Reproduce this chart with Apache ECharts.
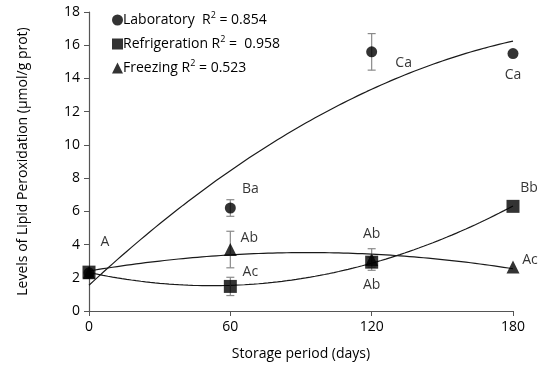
<!DOCTYPE html>
<html><head><meta charset="utf-8">
<script src="https://cdn.jsdelivr.net/npm/echarts@6/dist/echarts.min.js"></script>
<style>html,body{margin:0;padding:0;background:#fff}#c{width:552px;height:367px}</style>
</head><body><div id="c"></div>
<script>
const days = [0, 60, 120, 180];
const labMean = [2.3, 6.2, 15.6, 15.5];
const labErr = [0, 0.5, 1.1, 0];
const refMean = [2.34, 1.48, 2.94, 6.3];
const refErr = [0, 0.55, 0.3, 0];
const frzMean = [2.3, 3.7, 3.1, 2.65];
const frzErr = [0, 1.1, 0.65, 0];
const labLetters = ['', 'Ba', 'Ca', 'Ca'];
const refLetters = ['A', 'Ac', 'Ab', 'Bb'];
const frzLetters = ['', 'Ab', 'Ab', 'Ac'];
const seriesNames = ['Laboratory', 'Refrigeration', 'Freezing'];
const r2Labels = ['0.854', '0.958', '0.523'];
const xTicks = [0, 60, 120, 180];

const FONT = 'Open Sans';
// label offsets (style)
const labOff = [[0,0],[20,-19],[32,11],[0,21]];
const refOff = [[16,-30],[20,-14],[0,23],[16,-18]];
const frzOff = [[0,0],[19,-12],[0,-25],[17,-7]];

function quadFit(xs, ys) {
  // least-squares quadratic fit
  let S = [0,0,0,0,0], T = [0,0,0];
  for (let i = 0; i < xs.length; i++) {
    const x = xs[i], y = ys[i];
    for (let k = 0; k < 5; k++) S[k] += Math.pow(x, k);
    for (let k = 0; k < 3; k++) T[k] += Math.pow(x, k) * y;
  }
  const A = [[S[0],S[1],S[2],T[0]],[S[1],S[2],S[3],T[1]],[S[2],S[3],S[4],T[2]]];
  for (let i = 0; i < 3; i++) {
    for (let j = i+1; j < 3; j++) {
      const f = A[j][i] / A[i][i];
      for (let k = i; k < 4; k++) A[j][k] -= f * A[i][k];
    }
  }
  const c = [0,0,0];
  for (let i = 2; i >= 0; i--) {
    let s = A[i][3];
    for (let k = i+1; k < 3; k++) s -= A[i][k] * c[k];
    c[i] = s / A[i][i];
  }
  return c;
}
function trend(ys) {
  const c = quadFit(days, ys);
  const pts = [];
  for (let x = 0; x <= 180; x += 2) pts.push([x, c[0] + c[1]*x + c[2]*x*x]);
  return pts;
}

function pts(means, letters, offs) {
  return days.map((d, i) => ({
    value: [d, means[i]],
    label: {
      show: !!letters[i], formatter: letters[i], position: 'inside',
      offset: offs[i], color: '#000', fontSize: 14, fontFamily: FONT
    }
  }));
}
function errData(means, errs) { return days.map((d, i) => [d, means[i], errs[i]]); }

const errSeries = (means, errs, z) => ({
  type: 'custom', z: z, silent: true,
  data: errData(means, errs),
  renderItem: (params, api) => {
    const x = api.value(0), m = api.value(1), e = api.value(2);
    if (!e) return null;
    const t = api.coord([x, m + e]), b = api.coord([x, m - e]);
    const st = { stroke: '#8a8a8a', lineWidth: 1.2 };
    return { type: 'group', children: [
      { type: 'line', shape: { x1: t[0], y1: t[1], x2: b[0], y2: b[1] }, style: st },
      { type: 'line', shape: { x1: t[0]-4, y1: t[1], x2: t[0]+4, y2: t[1] }, style: st },
      { type: 'line', shape: { x1: b[0]-4, y1: b[1], x2: b[0]+4, y2: b[1] }, style: st }
    ]};
  }
});
const trendSeries = (ys) => ({
  type: 'line', data: trend(ys), showSymbol: false, symbol: 'none', z: 2,
  lineStyle: { color: '#1a1a1a', width: 1.2 }, silent: true
});

const chart = echarts.init(document.getElementById('c'));
chart.setOption({
  animation: false,
  backgroundColor: '#fff',
  textStyle: { fontFamily: FONT },
  grid: { left: 89, right: 39, top: 12, bottom: 56 },
  legend: {
    orient: 'vertical', left: 107, top: 6, itemGap: 8, itemWidth: 11, itemHeight: 11,
    data: [
      { name: seriesNames[0], icon: 'circle' },
      { name: seriesNames[1], icon: 'rect' },
      { name: seriesNames[2], icon: 'triangle' }
    ],
    formatter: n => {
      const i = seriesNames.indexOf(n);
      return n + (i === 0 ? '  ' : ' ') + 'R{sup|2} = ' + (i === 1 ? ' ' : '') + r2Labels[i];
    },
    textStyle: { fontSize: 14, color: '#000', fontFamily: FONT, padding: [0,0,0,-5],
      rich: { sup: { fontSize: 9, verticalAlign: 'top', lineHeight: 18, padding: [0,0,6,0], fontFamily: FONT, color: '#000' } } }
  },
  xAxis: {
    type: 'value', min: 0, max: 180, interval: 60,
    name: 'Storage period (days)', nameLocation: 'middle', nameGap: 36,
    nameTextStyle: { fontSize: 14, color: '#000', fontFamily: FONT },
    axisLine: { lineStyle: { color: '#555', width: 1.2 } },
    axisTick: { show: true, length: 5, lineStyle: { color: '#555' } },
    axisLabel: { fontSize: 14, color: '#000', margin: 9, fontFamily: FONT,
      formatter: v => xTicks.indexOf(v) >= 0 ? String(v) : '' },
    splitLine: { show: false }
  },
  yAxis: {
    type: 'value', min: 0, max: 18, interval: 2,
    name: 'Levels of Lipid Peroxidation (µmol/g prot)', nameLocation: 'middle', nameGap: 59,
    nameTextStyle: { fontSize: 14, color: '#000', fontFamily: FONT },
    axisLine: { show: true, lineStyle: { color: '#555', width: 1.2 } },
    axisTick: { show: true, length: 5, lineStyle: { color: '#555' } },
    axisLabel: { fontSize: 14, color: '#000', margin: 9, fontFamily: FONT },
    splitLine: { show: false }
  },
  series: [
    trendSeries(labMean), trendSeries(refMean), trendSeries(frzMean),
    errSeries(labMean, labErr, 3), errSeries(refMean, refErr, 3), errSeries(frzMean, frzErr, 3),
    { name: seriesNames[0], type: 'scatter', symbol: 'circle', symbolSize: 11, z: 5,
      itemStyle: { color: '#000' }, data: pts(labMean, labLetters, labOff) },
    { name: seriesNames[2], type: 'scatter', symbol: 'triangle', symbolSize: 13, z: 6,
      itemStyle: { color: '#000' }, data: pts(frzMean, frzLetters, frzOff) },
    { name: seriesNames[1], type: 'scatter', symbol: 'rect', symbolSize: 13, z: 7,
      itemStyle: { color: '#000' }, data: pts(refMean, refLetters, refOff) }
  ]
});
</script></body></html>
